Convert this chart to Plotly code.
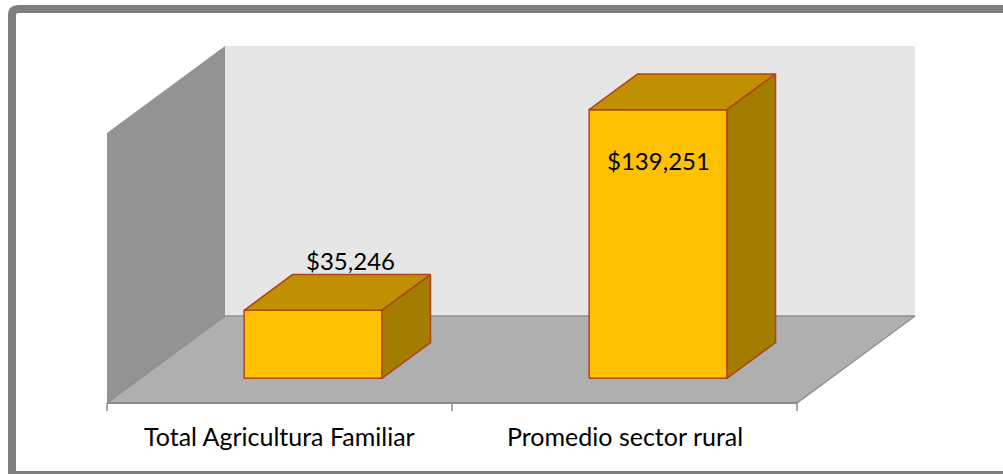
import plotly.graph_objects as go

# ---------------- data ----------------
categories = ["Total Agricultura Familiar", "Promedio sector rural"]
values = [35246, 139251]
value_labels = ["$35,246", "$139,251"]
label_positions = ["above", "inside"]
value_axis_max = 140000

# ---------------- geometry (page pixels of the 3-D box) ----------------
W, H = 1003, 474
FLOOR_LEFT_PX = 107      # front-left corner of floor
FLOOR_FRONT_PX = 403     # front edge of floor
CAT_PX = 345             # width of one category slot
WALL_PX = 270            # height of walls (= value_axis_max)
DEPTH_DX_PX = 118        # perspective offset of full depth
DEPTH_DY_PX = 87
BAR_HALF = 0.2           # half bar width in category units
BAR_D0, BAR_D1 = 0.285, 0.695  # depth extent of bars

px_per_val = WALL_PX / value_axis_max


def xr(px):
    return (px - FLOOR_LEFT_PX) / CAT_PX - 0.5


def yr(py):
    return (FLOOR_FRONT_PX - py) / px_per_val


DX = DEPTH_DX_PX / CAT_PX
DY = DEPTH_DY_PX / px_per_val


def P(x, d, v):
    return (x + d * DX, v + d * DY)


fig = go.Figure()


def poly(points, fill, line_color=None, line_width=0):
    xs = [p[0] for p in points] + [points[0][0]]
    ys = [p[1] for p in points] + [points[0][1]]
    fig.add_trace(go.Scatter(
        x=xs, y=ys, mode="lines", fill="toself", fillcolor=fill,
        line=dict(color=line_color or fill, width=line_width),
        hoverinfo="skip", showlegend=False))


def seg(p0, p1, color, width):
    fig.add_trace(go.Scatter(
        x=[p0[0], p1[0]], y=[p0[1], p1[1]], mode="lines",
        line=dict(color=color, width=width), hoverinfo="skip", showlegend=False))


n = len(categories)
xl, xh = -0.5, n - 0.5

# side wall
poly([P(xl, 0, 0), P(xl, 1, 0), P(xl, 1, value_axis_max), P(xl, 0, value_axis_max)],
     "#939393")
# back wall
poly([P(xl, 1, 0), P(xh, 1, 0), P(xh, 1, value_axis_max), P(xl, 1, value_axis_max)],
     "#e6e6e6")
# floor
poly([P(xl, 0, 0), P(xh, 0, 0), P(xh, 1, 0), P(xl, 1, 0)], "#afafaf",
     "#8f8f8f", 1.5)
# floor front edge
seg(P(xl, 0, 0), P(xh, 0, 0), "#8c8c8c", 2)

# category ticks
tick_len = 8 / px_per_val
for k in range(n + 1):
    bx = xl + k
    seg((bx, 0), (bx, -tick_len), "#8c8c8c", 1.5)

OUT = "#b0441a"
for i, v in enumerate(values):
    x0, x1 = i - BAR_HALF, i + BAR_HALF
    # front
    poly([P(x0, BAR_D0, 0), P(x1, BAR_D0, 0), P(x1, BAR_D0, v), P(x0, BAR_D0, v)],
         "#ffc000", OUT, 1.5)
    # top
    poly([P(x0, BAR_D0, v), P(x1, BAR_D0, v), P(x1, BAR_D1, v), P(x0, BAR_D1, v)],
         "#c09000", OUT, 1.5)
    # side
    poly([P(x1, BAR_D0, 0), P(x1, BAR_D1, 0), P(x1, BAR_D1, v), P(x1, BAR_D0, v)],
         "#a37d00", OUT, 1.5)

FAM = "Lato, Carlito, Calibri, sans-serif"
VAL_FONT = dict(family=FAM, size=24, color="#000000")
CAT_FONT = dict(family=FAM, size=25, color="#000000")
annotations = []
for i, (v, lab, pos) in enumerate(zip(values, value_labels, label_positions)):
    if pos == "above":
        ax, _ = P(i, 0.6, v)
        _, ay = P(i, BAR_D1, v)
        annotations.append(dict(x=ax, y=ay, text=lab, showarrow=False,
                                xanchor="center", yanchor="middle", yshift=14,
                                font=VAL_FONT))
    else:
        ax, ay = P(i, BAR_D0, v)
        annotations.append(dict(x=ax, y=ay, text=lab, showarrow=False,
                                xanchor="center", yanchor="middle", yshift=-51,
                                font=VAL_FONT))
for i, c in enumerate(categories):
    annotations.append(dict(x=i, y=yr(436), text=c, showarrow=False,
                            xanchor="center", yanchor="middle", font=CAT_FONT))

# outer chart border: left, top and bottom edges (right edge is off the page)
bl, bt, bb, rad = 12, 9, 475, 6
border_path = (f"M {bl},{-bb} L {bl},{-(bt + rad)} Q {bl},{-bt} {bl + rad},{-bt} "
               f"L {W + 20},{-bt}")
BORDER = dict(color="#7f7f7f", width=8)
shapes = [
    dict(type="path", xref="paper", yref="paper", xsizemode="pixel",
         ysizemode="pixel", xanchor=0, yanchor=1, path=border_path,
         line=BORDER, layer="above"),
    dict(type="path", xref="paper", yref="paper", xsizemode="pixel",
         ysizemode="pixel", xanchor=0, yanchor=1,
         path=f"M {bl},{-bb} L {W + 20},{-bb}", line=BORDER, layer="above"),
]

fig.update_layout(
    width=W, height=H, autosize=False,
    margin=dict(l=0, r=0, t=0, b=0, pad=0),
    paper_bgcolor="#ffffff", plot_bgcolor="#ffffff",
    xaxis=dict(range=[xr(0), xr(W)], visible=False, fixedrange=True),
    yaxis=dict(range=[yr(H), yr(0)], visible=False, fixedrange=True),
    annotations=annotations,
    shapes=shapes,
)

fig.write_html(
    "out.html",
    config={"displayModeBar": False},
    post_script="document.body.style.margin='0';"
                "document.documentElement.style.overflow='hidden';",
)
